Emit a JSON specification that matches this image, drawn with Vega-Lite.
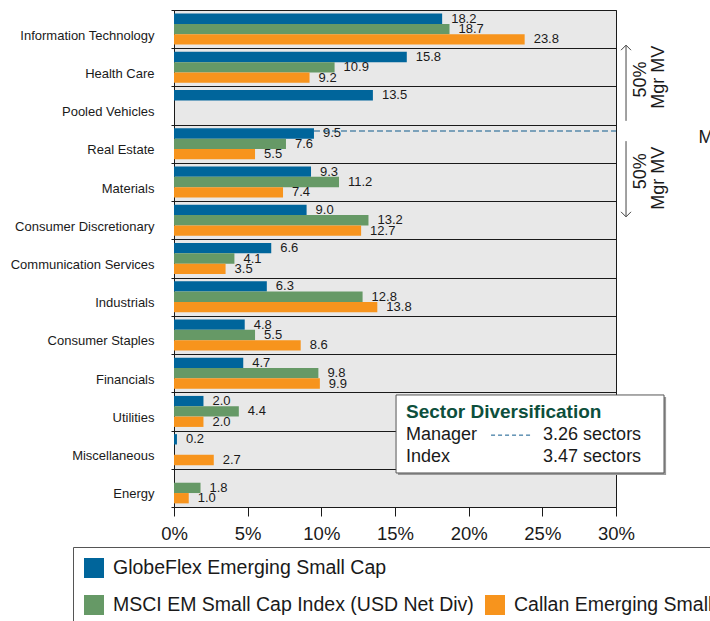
{
  "$schema": "https://vega.github.io/schema/vega-lite/v6.json",
  "width": 442,
  "height": 497,
  "autosize": {"type": "none"},
  "padding": {"left": 174, "top": 10, "right": 94, "bottom": 114},
  "config": {
    "font": "Liberation Sans",
    "view": {"fill": "#e8e8e8", "stroke": "#1a1a1a", "strokeWidth": 1},
    "axis": {"labelColor": "#1a1a1a"}
  },
  "datasets": {
    "sectors": [
      {"sector": "Information Technology", "series": "GlobeFlex Emerging Small Cap", "pct": 18.2},
      {"sector": "Information Technology", "series": "MSCI EM Small Cap Index (USD Net Div)", "pct": 18.7},
      {"sector": "Information Technology", "series": "Callan Emerging Small Cap", "pct": 23.8},
      {"sector": "Health Care", "series": "GlobeFlex Emerging Small Cap", "pct": 15.8},
      {"sector": "Health Care", "series": "MSCI EM Small Cap Index (USD Net Div)", "pct": 10.9},
      {"sector": "Health Care", "series": "Callan Emerging Small Cap", "pct": 9.2},
      {"sector": "Pooled Vehicles", "series": "GlobeFlex Emerging Small Cap", "pct": 13.5},
      {"sector": "Real Estate", "series": "GlobeFlex Emerging Small Cap", "pct": 9.5},
      {"sector": "Real Estate", "series": "MSCI EM Small Cap Index (USD Net Div)", "pct": 7.6},
      {"sector": "Real Estate", "series": "Callan Emerging Small Cap", "pct": 5.5},
      {"sector": "Materials", "series": "GlobeFlex Emerging Small Cap", "pct": 9.3},
      {"sector": "Materials", "series": "MSCI EM Small Cap Index (USD Net Div)", "pct": 11.2},
      {"sector": "Materials", "series": "Callan Emerging Small Cap", "pct": 7.4},
      {"sector": "Consumer Discretionary", "series": "GlobeFlex Emerging Small Cap", "pct": 9.0},
      {"sector": "Consumer Discretionary", "series": "MSCI EM Small Cap Index (USD Net Div)", "pct": 13.2},
      {"sector": "Consumer Discretionary", "series": "Callan Emerging Small Cap", "pct": 12.7},
      {"sector": "Communication Services", "series": "GlobeFlex Emerging Small Cap", "pct": 6.6},
      {"sector": "Communication Services", "series": "MSCI EM Small Cap Index (USD Net Div)", "pct": 4.1},
      {"sector": "Communication Services", "series": "Callan Emerging Small Cap", "pct": 3.5},
      {"sector": "Industrials", "series": "GlobeFlex Emerging Small Cap", "pct": 6.3},
      {"sector": "Industrials", "series": "MSCI EM Small Cap Index (USD Net Div)", "pct": 12.8},
      {"sector": "Industrials", "series": "Callan Emerging Small Cap", "pct": 13.8},
      {"sector": "Consumer Staples", "series": "GlobeFlex Emerging Small Cap", "pct": 4.8},
      {"sector": "Consumer Staples", "series": "MSCI EM Small Cap Index (USD Net Div)", "pct": 5.5},
      {"sector": "Consumer Staples", "series": "Callan Emerging Small Cap", "pct": 8.6},
      {"sector": "Financials", "series": "GlobeFlex Emerging Small Cap", "pct": 4.7},
      {"sector": "Financials", "series": "MSCI EM Small Cap Index (USD Net Div)", "pct": 9.8},
      {"sector": "Financials", "series": "Callan Emerging Small Cap", "pct": 9.9},
      {"sector": "Utilities", "series": "GlobeFlex Emerging Small Cap", "pct": 2.0},
      {"sector": "Utilities", "series": "MSCI EM Small Cap Index (USD Net Div)", "pct": 4.4},
      {"sector": "Utilities", "series": "Callan Emerging Small Cap", "pct": 2.0},
      {"sector": "Miscellaneous", "series": "GlobeFlex Emerging Small Cap", "pct": 0.2},
      {"sector": "Miscellaneous", "series": "Callan Emerging Small Cap", "pct": 2.7},
      {"sector": "Energy", "series": "MSCI EM Small Cap Index (USD Net Div)", "pct": 1.8},
      {"sector": "Energy", "series": "Callan Emerging Small Cap", "pct": 1.0}
    ]
  },
  "layer": [
    {
      "data": {"name": "sectors"},
      "encoding": {
        "y": {
          "field": "sector", "type": "nominal",
          "scale": {"domain": ["Information Technology", "Health Care", "Pooled Vehicles", "Real Estate", "Materials", "Consumer Discretionary", "Communication Services", "Industrials", "Consumer Staples", "Financials", "Utilities", "Miscellaneous", "Energy"], "paddingInner": 0, "paddingOuter": 0},
          "axis": {"title": null, "domain": false, "grid": true, "gridColor": "#1a1a1a", "gridOpacity": 1, "gridWidth": 1, "tickBand": "extent", "tickSize": 3, "tickColor": "#1a1a1a", "labelFontSize": 13, "labelPadding": 17, "labelOffset": 6}
        },
        "yOffset": {
          "field": "series", "type": "nominal",
          "scale": {"domain": ["GlobeFlex Emerging Small Cap", "MSCI EM Small Cap Index (USD Net Div)", "Callan Emerging Small Cap"], "paddingInner": 0, "paddingOuter": 0.35}
        },
        "x": {
          "field": "pct", "type": "quantitative",
          "scale": {"domain": [0, 30], "nice": false, "zero": true},
          "axis": {"title": null, "values": [0, 5, 10, 15, 20, 25, 30], "labelExpr": "datum.value + '%'", "labelFontSize": 18.5, "labelFlush": false, "tickSize": 9, "tickColor": "#1a1a1a", "domain": false, "grid": false, "labelPadding": 8}
        }
      },
      "layer": [
        {
          "mark": {"type": "bar"},
          "encoding": {
            "color": {
              "field": "series", "type": "nominal",
              "scale": {
                "domain": ["GlobeFlex Emerging Small Cap", "MSCI EM Small Cap Index (USD Net Div)", " ", "Callan Emerging Small Cap"],
                "range": ["#00659b", "#669966", "transparent", "#f7941d"]
              },
              "legend": {
                "orient": "none", "legendX": -101, "legendY": 537, "columns": 2, "title": null,
                "labelFontSize": 19.5, "labelLimit": 600, "labelColor": "#1a1a1a",
                "symbolType": "square", "symbolSize": 400, "symbolStrokeWidth": 0,
                "strokeColor": "#555555", "fillColor": "#ffffff", "padding": 11,
                "rowPadding": 17, "columnPadding": 11, "labelOffset": 9
              }
            }
          }
        },
        {
          "mark": {"type": "text", "align": "left", "baseline": "middle", "dx": 9, "fontSize": 13, "color": "#1a1a1a"},
          "encoding": {
            "text": {"field": "pct", "type": "quantitative", "format": ".1f"}
          }
        }
      ]
    },
    {
      "data": {"values": [{}]},
      "layer": [
        {
          "mark": {"type": "rule", "color": "#0f5a8c", "strokeDash": [6, 3], "strokeWidth": 1.2},
          "encoding": {
            "x": {"datum": 9.5, "type": "quantitative", "scale": {"domain": [0, 30], "nice": false}},
            "x2": {"datum": 30},
            "y": {"datum": 3.165, "type": "quantitative", "scale": {"domain": [0, 13], "reverse": true, "nice": false, "zero": false}, "axis": null}
          }
        },
        {
          "mark": {"type": "rect", "fill": "#9a9a9a"},
          "encoding": {
            "x": {"datum": 15.2, "type": "quantitative"},
            "x2": {"datum": 33.4},
            "y": {"datum": 10.12, "type": "quantitative"},
            "y2": {"datum": 12.16}
          }
        },
        {
          "mark": {"type": "rect", "fill": "#ffffff", "stroke": "#555555", "strokeWidth": 1},
          "encoding": {
            "x": {"datum": 15.07, "type": "quantitative"},
            "x2": {"datum": 33.26},
            "y": {"datum": 10.07, "type": "quantitative"},
            "y2": {"datum": 12.11}
          }
        },
        {
          "mark": {"type": "text", "text": "Sector Diversification", "fontWeight": "bold", "fontSize": 19, "color": "#0d4f3c", "align": "left", "baseline": "middle"},
          "encoding": {
            "x": {"datum": 15.75, "type": "quantitative"},
            "y": {"datum": 10.52, "type": "quantitative"}
          }
        },
        {
          "mark": {"type": "text", "text": "Manager", "fontSize": 18, "color": "#1a1a1a", "align": "left", "baseline": "middle"},
          "encoding": {
            "x": {"datum": 15.75, "type": "quantitative"},
            "y": {"datum": 11.12, "type": "quantitative"}
          }
        },
        {
          "mark": {"type": "text", "text": "Index", "fontSize": 18, "color": "#1a1a1a", "align": "left", "baseline": "middle"},
          "encoding": {
            "x": {"datum": 15.75, "type": "quantitative"},
            "y": {"datum": 11.69, "type": "quantitative"}
          }
        },
        {
          "mark": {"type": "text", "text": "3.26 sectors", "fontSize": 18, "color": "#1a1a1a", "align": "left", "baseline": "middle"},
          "encoding": {
            "x": {"datum": 25.05, "type": "quantitative"},
            "y": {"datum": 11.12, "type": "quantitative"}
          }
        },
        {
          "mark": {"type": "text", "text": "3.47 sectors", "fontSize": 18, "color": "#1a1a1a", "align": "left", "baseline": "middle"},
          "encoding": {
            "x": {"datum": 25.05, "type": "quantitative"},
            "y": {"datum": 11.69, "type": "quantitative"}
          }
        },
        {
          "mark": {"type": "rule", "color": "#0f5a8c", "strokeDash": [4, 3], "strokeWidth": 1},
          "encoding": {
            "x": {"datum": 21.52, "type": "quantitative"},
            "x2": {"datum": 24.37},
            "y": {"datum": 11.12, "type": "quantitative"}
          }
        },
        {
          "mark": {"type": "rule", "color": "#444444", "strokeWidth": 1},
          "encoding": {
            "x": {"datum": 30.68, "type": "quantitative"},
            "y": {"datum": 0.92, "type": "quantitative"},
            "y2": {"datum": 2.9}
          }
        },
        {
          "mark": {"type": "rule", "color": "#444444", "strokeWidth": 1},
          "encoding": {
            "x": {"datum": 30.68, "type": "quantitative"},
            "y": {"datum": 3.43, "type": "quantitative"},
            "y2": {"datum": 5.41}
          }
        },
        {
          "mark": {"type": "point", "shape": "M-1,1L0,0L1,1", "size": 100, "filled": false, "stroke": "#444444", "strokeWidth": 1, "opacity": 1},
          "encoding": {
            "x": {"datum": 30.68, "type": "quantitative"},
            "y": {"datum": 0.92, "type": "quantitative"}
          }
        },
        {
          "mark": {"type": "point", "shape": "M-1,-1L0,0L1,-1", "size": 100, "filled": false, "stroke": "#444444", "strokeWidth": 1, "opacity": 1},
          "encoding": {
            "x": {"datum": 30.68, "type": "quantitative"},
            "y": {"datum": 5.41, "type": "quantitative"}
          }
        },
        {
          "mark": {"type": "text", "text": "50%", "angle": 270, "fontSize": 18, "color": "#1a1a1a", "align": "center", "baseline": "middle"},
          "encoding": {
            "x": {"datum": 31.7, "type": "quantitative"},
            "y": {"datum": 1.82, "type": "quantitative"}
          }
        },
        {
          "mark": {"type": "text", "text": "Mgr MV", "angle": 270, "fontSize": 18, "color": "#1a1a1a", "align": "center", "baseline": "middle"},
          "encoding": {
            "x": {"datum": 32.92, "type": "quantitative"},
            "y": {"datum": 1.76, "type": "quantitative"}
          }
        },
        {
          "mark": {"type": "text", "text": "50%", "angle": 270, "fontSize": 18, "color": "#1a1a1a", "align": "center", "baseline": "middle"},
          "encoding": {
            "x": {"datum": 31.7, "type": "quantitative"},
            "y": {"datum": 4.22, "type": "quantitative"}
          }
        },
        {
          "mark": {"type": "text", "text": "Mgr MV", "angle": 270, "fontSize": 18, "color": "#1a1a1a", "align": "center", "baseline": "middle"},
          "encoding": {
            "x": {"datum": 32.92, "type": "quantitative"},
            "y": {"datum": 4.4, "type": "quantitative"}
          }
        },
        {
          "mark": {"type": "text", "text": "M", "fontSize": 18, "color": "#1a1a1a", "align": "left", "baseline": "middle"},
          "encoding": {
            "x": {"datum": 35.6, "type": "quantitative"},
            "y": {"datum": 3.35, "type": "quantitative"}
          }
        }
      ]
    }
  ],
  "resolve": {"scale": {"y": "independent"}}
}
